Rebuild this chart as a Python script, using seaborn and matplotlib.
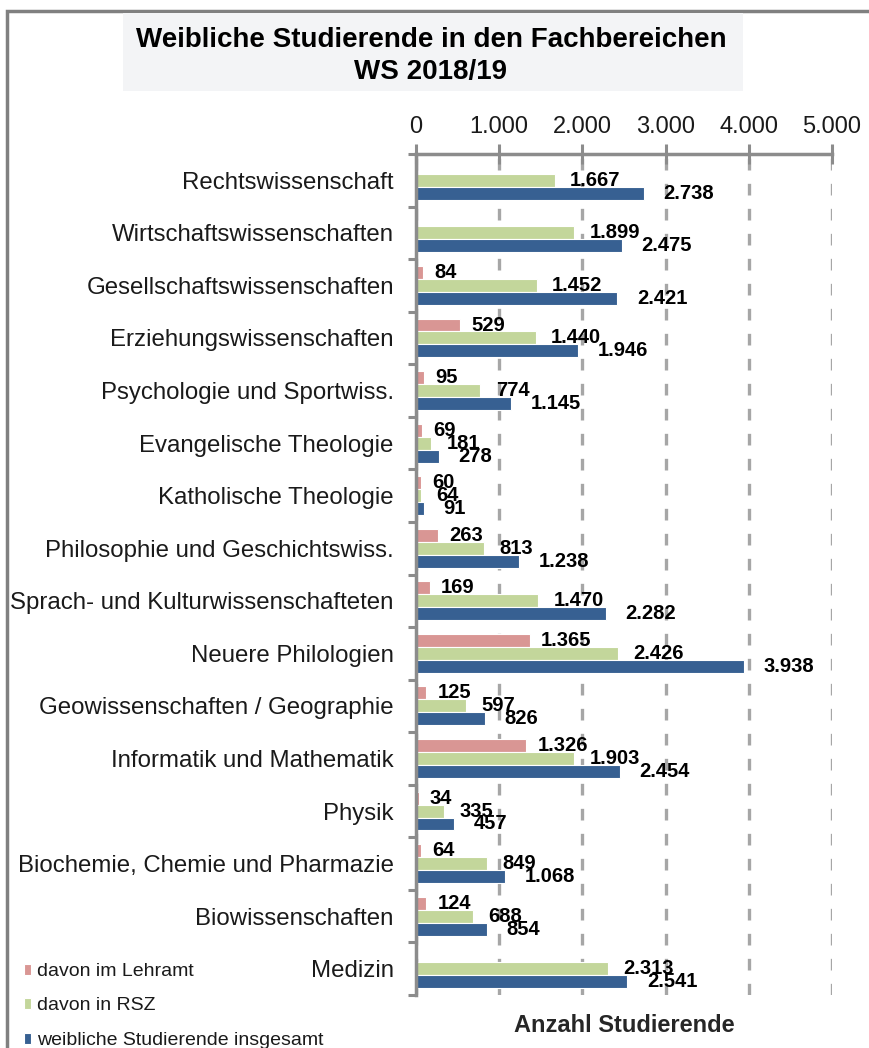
import numpy as np
import pandas as pd
import matplotlib.pyplot as plt
import seaborn as sns
from matplotlib.patches import Rectangle
from matplotlib.ticker import FixedLocator

# Daten aus dem Diagramm (WS 2018/19)
fachbereiche = [
    'Rechtswissenschaft', 'Wirtschaftswissenschaften', 'Gesellschaftswissenschaften',
    'Erziehungswissenschaften', 'Psychologie und Sportwiss.', 'Evangelische Theologie',
    'Katholische Theologie', 'Philosophie und Geschichtswiss.',
    'Sprach- und Kulturwissenschafteten', 'Neuere Philologien',
    'Geowissenschaften / Geographie', 'Informatik und Mathematik', 'Physik',
    'Biochemie, Chemie und Pharmazie', 'Biowissenschaften', 'Medizin',
]
lehramt = [np.nan, np.nan, 84, 529, 95, 69, 60, 263, 169, 1365, 125, 1326, 34, 64, 124, np.nan]
rsz = [1667, 1899, 1452, 1440, 774, 181, 64, 813, 1470, 2426, 597, 1903, 335, 849, 688, 2313]
insgesamt = [2738, 2475, 2421, 1946, 1145, 278, 91, 1238, 2282, 3938, 826, 2454, 457, 1068, 854, 2541]

serien = ['davon im Lehramt', 'davon in RSZ', 'weibliche Studierende insgesamt']
farben = ['#d99694', '#c3d69b', '#376092']
x_ticks = [0, 1000, 2000, 3000, 4000, 5000]
x_ticklabels = ['0', '1.000', '2.000', '3.000', '4.000', '5.000']

df = pd.concat([
    pd.DataFrame({'Fachbereich': fachbereiche, 'Anzahl': werte, 'Serie': s})
    for s, werte in zip(serien, [lehramt, rsz, insgesamt])
]).dropna()

sns.set_theme(style='white')
plt.rcParams['font.family'] = ['Liberation Sans', 'DejaVu Sans']

fig = plt.figure(figsize=(8.7, 10.48), dpi=100)
ax = fig.add_axes([416 / 870, 1 - 995 / 1048, (832 - 416) / 870, (995 - 154) / 1048])

sns.barplot(data=df, x='Anzahl', y='Fachbereich', hue='Serie', order=fachbereiche,
            hue_order=serien, palette=farben, saturation=1, orient='h', errorbar=None,
            width=0.74, edgecolor='white', linewidth=0.8, ax=ax)

fmt = lambda v: f'{v:,.0f}'.replace(',', '.')
for cont, pad in zip(ax.containers, [8, 11, 14]):
    ax.bar_label(cont, fmt=fmt, padding=pad, fontsize=14.5, fontweight='bold', color='black')

grau = '#8c8c8c'
ax.set_xlim(0, 5000)
ax.xaxis.tick_top()
ax.set_xticks(x_ticks, x_ticklabels)
ax.tick_params(axis='x', which='major', direction='inout', length=15, width=2.2,
               color=grau, labelsize=17, pad=4, labelcolor='#1a1a1a')
ax.tick_params(axis='y', which='major', length=0, labelsize=17.3, pad=16, labelcolor='#1a1a1a')
ax.yaxis.set_minor_locator(FixedLocator(np.arange(-0.5, len(fachbereiche), 1)))
ax.tick_params(axis='y', which='minor', direction='out', length=6, width=2.2,
               color=grau, left=True)
ax.set_ylabel('')

ax.xaxis.grid(True, linestyle=(0, (3.5, 4)), color='#a6a6a6', linewidth=2.4)
ax.set_axisbelow(True)
for side in ['right', 'bottom']:
    ax.spines[side].set_visible(False)
for side in ['left', 'top']:
    ax.spines[side].set_color(grau)
    ax.spines[side].set_linewidth(2.5)

ax.xaxis.set_label_position('bottom')
ax.set_xlabel('Anzahl Studierende', fontsize=17, fontweight='bold', labelpad=14)

handles, labels = ax.get_legend_handles_labels()
ax.get_legend().remove()
fig.legend(handles, labels, loc='upper left', bbox_to_anchor=(24 / 870, 1 - 963 / 1048),
           frameon=False, fontsize=14, handlelength=0.35, handleheight=0.5,
           handletextpad=0.3, labelspacing=0.9, borderpad=0, borderaxespad=0,
           labelcolor='#1a1a1a')

# Rahmen und Titelbox
fig.patches.append(Rectangle((7 / 870, -0.05), 1.1, 1 - 11 / 1048 + 0.05,
                             transform=fig.transFigure, fill=False,
                             edgecolor='#808080', linewidth=2.5))
fig.patches.append(Rectangle((123 / 870, 1 - 91 / 1048), 620 / 870, 78 / 1048,
                             transform=fig.transFigure, facecolor='#f3f4f6',
                             edgecolor='none'))
fig.text(431 / 870, 1 - 40 / 1048, 'Weibliche Studierende in den Fachbereichen',
         ha='center', va='center', fontsize=20, fontweight='bold', color='black')
fig.text(431 / 870, 1 - 72 / 1048, 'WS 2018/19',
         ha='center', va='center', fontsize=20, fontweight='bold', color='black')

fig.savefig('out.png', dpi=100)
